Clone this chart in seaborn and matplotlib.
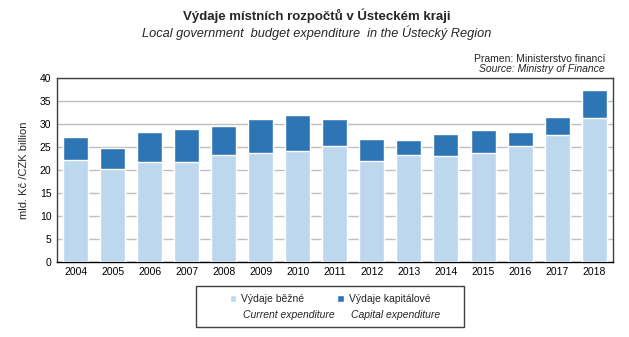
import matplotlib
matplotlib.use("Agg")
import matplotlib.pyplot as plt
import seaborn as sns
import pandas as pd
from matplotlib.patches import Rectangle

years = [str(y) for y in range(2004, 2019)]
current = [22.2, 20.2, 21.7, 21.7, 23.3, 23.7, 24.1, 25.2, 22.0, 23.3, 23.1, 23.7, 25.2, 27.6, 31.3]
total = [27.2, 24.8, 28.3, 28.9, 29.6, 31.1, 32.0, 31.1, 26.8, 26.5, 27.9, 28.7, 28.3, 31.6, 37.5]
capital = [t - c for t, c in zip(total, current)]

sns.set_theme(style="white")
plt.rcParams['font.family'] = ['Liberation Sans', 'DejaVu Sans']

c_light = "#BDD7EE"
c_dark = "#2E75B6"

df = pd.DataFrame({"year": years, "current": current, "capital": capital, "total": total})

fig = plt.figure(figsize=(6.29, 3.37), dpi=100)
ax = fig.add_axes([57/629, 1 - 261.7/337, (612.7-57)/629, (261.7-78.3)/337])

sns.barplot(data=df, x="year", y="total", color=c_dark, width=0.675, ax=ax,
            saturation=1, label="Výdaje kapitálové", zorder=3)
sns.barplot(data=df, x="year", y="current", color=c_light, width=0.675, ax=ax,
            saturation=1, label="Výdaje běžné", zorder=3)

handles, labels = ax.get_legend_handles_labels()
if ax.get_legend() is not None:
    ax.get_legend().remove()

ax.set_ylim(0, 40)
ax.set_yticks(range(0, 41, 5))
ax.set_xlim(-0.5, len(years) - 0.5)
ax.yaxis.grid(True, color="#BFBFBF", linewidth=1.0, zorder=0)
ax.set_axisbelow(True)
for s in ax.spines.values():
    s.set_color("#404040")
    s.set_linewidth(1.0)
ax.spines['bottom'].set_color("#000000")
ax.tick_params(axis='both', length=0, labelsize=7.5, colors="#000000", pad=4)
ax.set_xlabel("")
ax.set_ylabel("mld. Kč /CZK billion", fontsize=8, labelpad=8)

# Titles
fig.text(317/629, 1 - 16/337, "Výdaje místních rozpočtů v Ústeckém kraji",
         ha="center", va="center", fontsize=9.5, fontweight="bold")
fig.text(317/629, 1 - 33/337, "Local government  budget expenditure  in the Ústecký Region",
         ha="center", va="center", fontsize=9.2, style="italic")
fig.text(605/629, 1 - 59/337, "Pramen: Ministerstvo financí",
         ha="right", va="center", fontsize=7.5)
fig.text(605/629, 1 - 69/337, "Source: Ministry of Finance",
         ha="right", va="center", fontsize=7.5, style="italic")

# Legend
order = [labels.index("Výdaje běžné"), labels.index("Výdaje kapitálové")]
leg = fig.legend([handles[i] for i in order], [labels[i] for i in order],
                 loc="center", bbox_to_anchor=(330/629, 1 - 299/337), ncol=2,
                 frameon=False, fontsize=7.5, handlelength=0.6, handleheight=0.6,
                 handletextpad=0.5, columnspacing=3.2)
fig.patches.append(Rectangle((196/629, 1 - 327/337), (464-196)/629, (327-286)/337,
                             transform=fig.transFigure, fill=False,
                             edgecolor="#404040", linewidth=1.0))
fig.text(243/629, 1 - 315/337, "Current expenditure", ha="left", va="center",
         fontsize=7.5, style="italic")
fig.text(351/629, 1 - 315/337, "Capital expenditure", ha="left", va="center",
         fontsize=7.5, style="italic")

fig.savefig("out.png", dpi=100)
